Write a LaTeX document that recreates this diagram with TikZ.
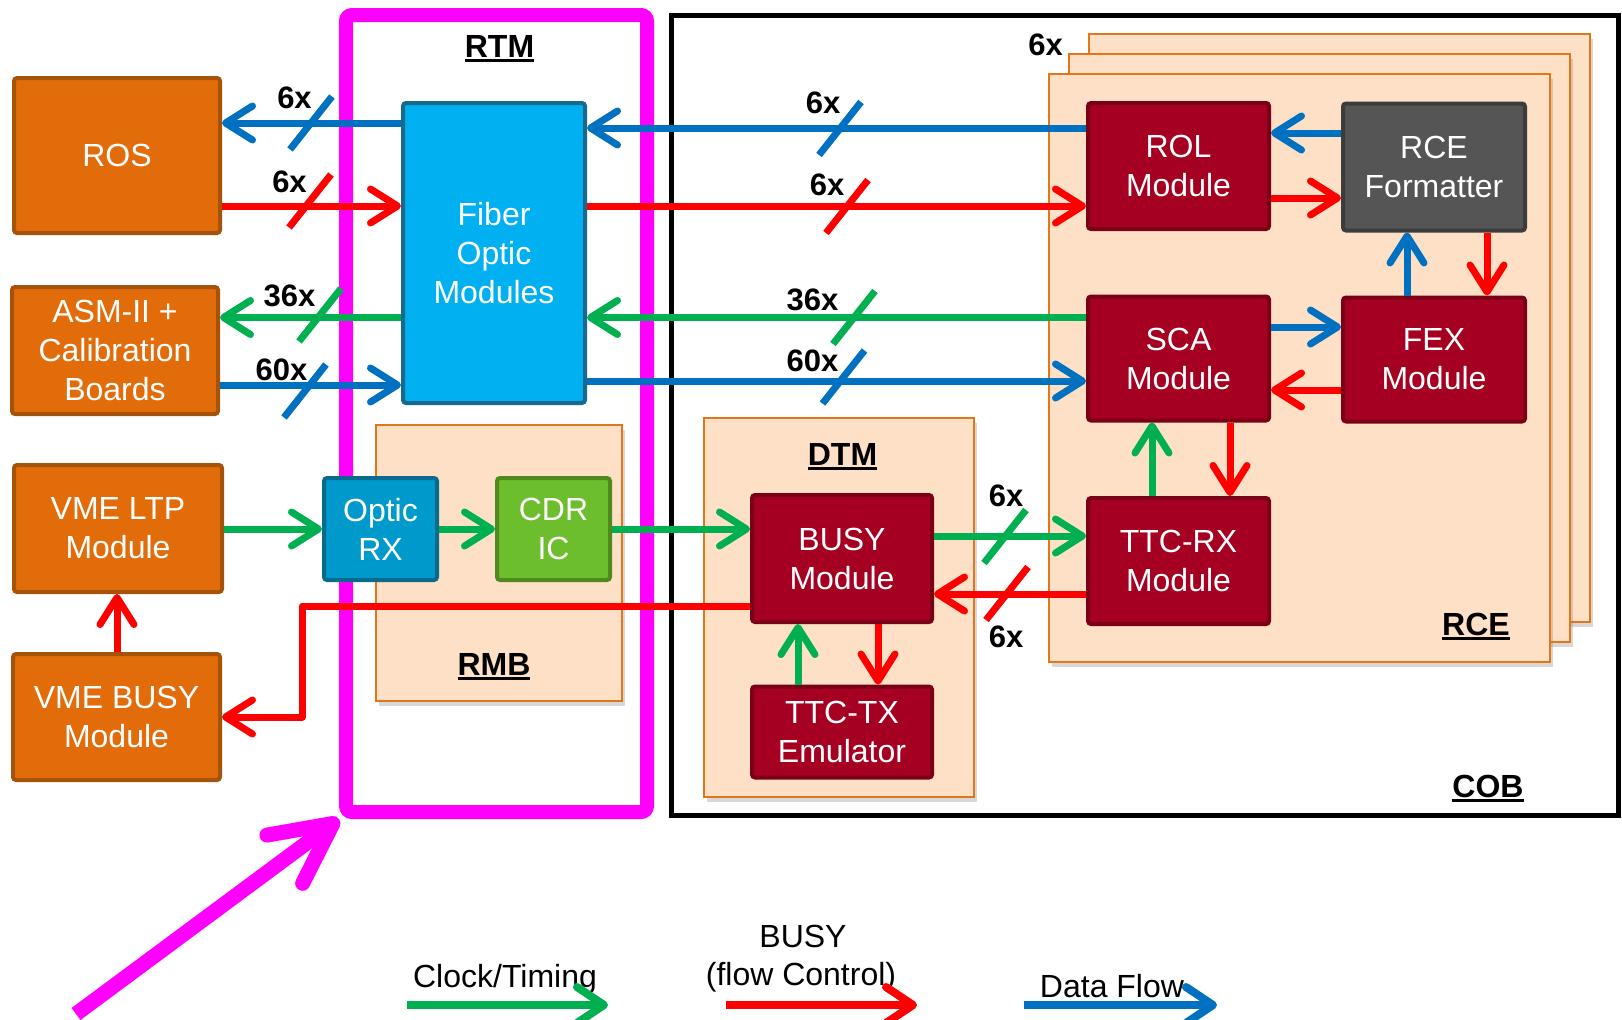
\documentclass[tikz,border=0pt]{standalone}
\usepackage{fontspec}
\setmainfont{Liberation Sans}
\usetikzlibrary{arrows.meta,shadows,calc}
\definecolor{orfill}{HTML}{E36C0A}
\definecolor{ordraw}{HTML}{A5520B}
\definecolor{cyfill}{HTML}{00B0F0}
\definecolor{cydraw}{HTML}{17698E}
\definecolor{opfill}{HTML}{0099CC}
\definecolor{opdraw}{HTML}{0A6A8E}
\definecolor{cdfill}{HTML}{6CBE2D}
\definecolor{cddraw}{HTML}{4E8A1D}
\definecolor{rdfill}{HTML}{A50021}
\definecolor{rddraw}{HTML}{7A0018}
\definecolor{gyfill}{HTML}{555555}
\definecolor{gydraw}{HTML}{3C3C3C}
\definecolor{pcfill}{HTML}{FDE0C5}
\definecolor{pcdraw}{HTML}{E4761A}
\definecolor{mag}{HTML}{FF00FF}
\definecolor{dblue}{HTML}{0070C0}
\definecolor{dred}{HTML}{FF0000}
\definecolor{dgreen}{HTML}{00B050}
\newsavebox\myulbox
\newcommand\myul[1]{\sbox\myulbox{#1}\rlap{\rule[-2.6pt]{\wd\myulbox}{1.5pt}}\usebox\myulbox}
\newcommand\mslash[2]{\draw[slashline,#1] ($(#2)+(-21,26.5)$) -- ($(#2)+(21,-26.5)$);}
\begin{document}
\begin{tikzpicture}[x=0.5pt,y=-0.5pt,
  box/.style={draw, line width=2pt, rounded corners=1.5pt, text=white, align=center, inner sep=0pt, font=\fontsize{16}{19.5}\selectfont},
  orbox/.style={box, fill=orfill, draw=ordraw},
  rdbox/.style={box, fill=rdfill, draw=rddraw},
  holder/.style={draw=pcdraw, fill=pcfill, line width=1pt, inner sep=0pt, drop shadow={shadow xshift=1.5pt, shadow yshift=-2.5pt, opacity=0.3}},
  flow/.style={line width=3.5pt, -{Straight Barb[length=13.5pt,width=17pt,round]}},
  slashline/.style={line width=3.5pt},
  mult/.style={anchor=base, inner sep=0pt, font=\bfseries\fontsize{15.5}{18}\selectfont},
  ttl/.style={anchor=base, inner sep=0pt, font=\bfseries\fontsize{16}{19}\selectfont},
  lgd/.style={anchor=base, inner sep=0pt, font=\fontsize{16}{19}\selectfont},
  lgflow/.style={line width=4pt, -{Straight Barb[length=13.5pt,width=18pt,round]}},
]
\useasboundingbox (0,0) rectangle (1622,1019);
\fill[white] (0,0) rectangle (1622,1019);

% frames
\node[draw=black, line width=2.5pt, minimum width=473.5pt, minimum height=400pt, inner sep=0pt] (cob) at (1144.5,415) {};
\node[draw=mag, line width=7pt, rounded corners=3pt, minimum width=150.5pt, minimum height=398.5pt, inner sep=0pt] (rtm) at (496.5,413.5) {};

% containers
\node[holder, minimum width=123pt, minimum height=138pt] (rmb) at (499,563) {};
\node[holder, minimum width=135pt, minimum height=189.5pt] (dtm) at (839,607.5) {};
\node[holder, minimum width=250.5pt, minimum height=294pt] (rce3) at (1339.5,328) {};
\node[holder, minimum width=250.5pt, minimum height=294pt] (rce2) at (1319.5,348) {};
\node[holder, minimum width=250.5pt, minimum height=294pt] (rce) at (1299.5,368) {};

% titles
\node[ttl] (trtm) at (499.5,57) {\myul{RTM}};
\node[ttl] (tcob) at (1488,797) {\myul{COB}};
\node[ttl] (trmb) at (494,675) {\myul{RMB}};
\node[ttl] (tdtm) at (842.5,465) {\myul{DTM}};
\node[ttl] (trce) at (1476,635) {\myul{RCE}};
\node[mult] (mrce) at (1045.5,55) {6x};

% boxes
\node[orbox, minimum width=103pt, minimum height=77.5pt] (ros) at (117,155.5) {ROS};
\node[orbox, minimum width=103pt, minimum height=63.5pt] (asm) at (115,350.5) {ASM-II +\\Calibration\\Boards};
\node[orbox, minimum width=104pt, minimum height=63.5pt] (ltp) at (118,528.5) {VME LTP\\Module};
\node[orbox, minimum width=103.5pt, minimum height=63pt] (vbusy) at (116.5,717) {VME BUSY\\Module};
\node[box, fill=cyfill, draw=cydraw, minimum width=91pt, minimum height=150pt] (fiber) at (494,253) {Fiber\\Optic\\Modules};
\node[box, fill=opfill, draw=opdraw, minimum width=56.5pt, minimum height=51pt] (optic) at (380.5,529) {Optic\\RX};
\node[box, fill=cdfill, draw=cddraw, minimum width=56.5pt, minimum height=51pt] (cdr) at (553.5,529) {CDR\\IC};
\node[rdbox, minimum width=90pt, minimum height=63.5pt] (busy) at (842,558.5) {BUSY\\Module};
\node[rdbox, minimum width=90pt, minimum height=45.5pt] (ttctx) at (842,732) {TTC-TX\\Emulator};
\node[rdbox, minimum width=90.5pt, minimum height=63pt] (ttcrx) at (1178.5,561) {TTC-RX\\Module};
\node[rdbox, minimum width=90.5pt, minimum height=63pt] (rol) at (1178.5,166) {ROL\\Module};
\node[box, fill=gyfill, draw=gydraw, minimum width=91pt, minimum height=63.5pt] (fmt) at (1434,167) {RCE\\Formatter};
\node[rdbox, minimum width=90.5pt, minimum height=62pt] (sca) at (1178.5,358.5) {SCA\\Module};
\node[rdbox, minimum width=91pt, minimum height=62pt] (fex) at (1434,359.5) {FEX\\Module};

% levels
\coordinate (yA) at (0,123);
\coordinate (yB) at (0,206);
\coordinate (yC) at (0,317.5);
\coordinate (yD) at (0,385);
\coordinate (yE) at (0,128);
\coordinate (yH) at (0,381);
\coordinate (yF) at (0,133);
\coordinate (yG) at (0,198);
\coordinate (yI) at (0,327);
\coordinate (yJ) at (0,390);
\coordinate (yK) at (0,529);
\coordinate (yL) at (0,536);
\coordinate (yM) at (0,594);
\coordinate (yN) at (0,606);
\coordinate (xa) at (1407,0);
\coordinate (xb) at (1487,0);
\coordinate (xc) at (1152,0);
\coordinate (xd) at (1230,0);
\coordinate (xe) at (798,0);
\coordinate (xf) at (878,0);
\coordinate (xg) at (117,0);
\coordinate (xh) at (302,0);

% left side
\draw[flow, dblue] (fiber.west |- yA) -- (ros.east |- yA);
\draw[flow, dred] (ros.east |- yB) -- (fiber.west |- yB);
\draw[flow, dgreen] (fiber.west |- yC) -- (asm.east |- yC);
\draw[flow, dblue] (asm.east |- yD) -- (fiber.west |- yD);
% right side
\draw[flow, dblue] (rol.west |- yE) -- (fiber.east |- yE);
\draw[flow, dred] (fiber.east |- yB) -- (rol.west |- yB);
\draw[flow, dgreen] (sca.west |- yC) -- (fiber.east |- yC);
\draw[flow, dblue] (fiber.east |- yH) -- (sca.west |- yH);
% RCE inside
\draw[flow, dblue] (fmt.west |- yF) -- (rol.east |- yF);
\draw[flow, dred] (rol.east |- yG) -- (fmt.west |- yG);
\draw[flow, dblue] (xa |- fex.north) -- (xa |- fmt.south);
\draw[flow, dred] (xb |- fmt.south) -- (xb |- fex.north);
\draw[flow, dblue] (sca.east |- yI) -- (fex.west |- yI);
\draw[flow, dred] (fex.west |- yJ) -- (sca.east |- yJ);
\draw[flow, dgreen] (xc |- ttcrx.north) -- (xc |- sca.south);
\draw[flow, dred] (xd |- sca.south) -- (xd |- ttcrx.north);
% DTM
\draw[flow, dgreen] (busy.east |- yL) -- (ttcrx.west |- yL);
\draw[flow, dred] (ttcrx.west |- yM) -- (busy.east |- yM);
\draw[flow, dgreen] (xe |- ttctx.north) -- (xe |- busy.south);
\draw[flow, dred] (xf |- busy.south) -- (xf |- ttctx.north);
% timing chain
\draw[flow, dgreen] (ltp.east |- yK) -- (optic.west |- yK);
\draw[flow, dgreen] (optic.east |- yK) -- (cdr.west |- yK);
\draw[flow, dgreen] (cdr.east |- yK) -- (busy.west |- yK);
\draw[flow, dred, line join=round] (busy.west |- yN) -- (xh |- yN) -- (xh |- vbusy.east) -- (vbusy.east);
\draw[flow, dred] (xg |- vbusy.north) -- (xg |- ltp.south);

% slashes
\coordinate (s1) at (311,123);
\coordinate (s2) at (310,201);
\coordinate (s3) at (320,315);
\coordinate (s4) at (305,391);
\coordinate (s5) at (840,128.5);
\coordinate (s6) at (847,206.5);
\coordinate (s7) at (854,317.5);
\coordinate (s8) at (843.5,377);
\coordinate (s9) at (1005,536.5);
\coordinate (s10) at (1007,593.5);
\mslash{dblue}{s1}
\mslash{dred}{s2}
\mslash{dgreen}{s3}
\mslash{dblue}{s4}
\mslash{dblue}{s5}
\mslash{dred}{s6}
\mslash{dgreen}{s7}
\mslash{dblue}{s8}
\mslash{dgreen}{s9}
\mslash{dred}{s10}

% multiplicities
\node[mult] (m1) at (294.5,108) {6x};
\node[mult] (m2) at (289.5,192) {6x};
\node[mult] (m3) at (289.5,306) {36x};
\node[mult] (m4) at (281.5,380) {60x};
\node[mult] (m5) at (823,113) {6x};
\node[mult] (m6) at (827,195) {6x};
\node[mult] (m7) at (812.5,310) {36x};
\node[mult] (m8) at (812.5,371) {60x};
\node[mult] (m9) at (1006,506) {6x};
\node[mult] (m10) at (1006,647) {6x};

% magenta pointer
\coordinate (magtail) at (76,1014);
\draw[mag, line width=7.5pt, -{Straight Barb[length=30pt,width=30pt,round]}] (magtail) -- (rtm.south west);

% legend
\node[lgd] (lg1) at (505,987) {Clock/Timing};
\node[lgd] (lg2a) at (803,947) {BUSY};
\node[lgd] (lg2b) at (801,985) {(flow Control)};
\node[lgd] (lg3) at (1112,997) {Data Flow};
\coordinate (la1) at (407,1005);
\coordinate (lb1) at (608,1005);
\coordinate (la2) at (726,1005);
\coordinate (lb2) at (917,1005);
\coordinate (la3) at (1024,1005);
\coordinate (lb3) at (1217,1005);
\draw[lgflow, dgreen] (la1) -- (lb1);
\draw[lgflow, dred] (la2) -- (lb2);
\draw[lgflow, dblue] (la3) -- (lb3);
\end{tikzpicture}
\end{document}
